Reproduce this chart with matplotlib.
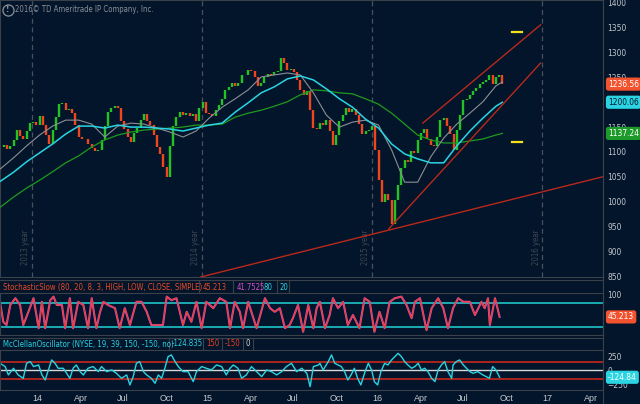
#Russell 2000 style chart with stochastic and McClellan panels
import pandas as pd
import matplotlib
matplotlib.use("Agg")
import matplotlib.pyplot as plt
import matplotlib.dates as mdates
from matplotlib.lines import Line2D
from matplotlib.ticker import FixedLocator, FuncFormatter
from matplotlib.transforms import blended_transform_factory as blend

#Weekly closes (one per week starting 2013-10-25)
weeks = pd.date_range("2013-10-25", periods=155, freq="7D")
closes = [1110, 1114, 1106, 1112, 1124, 1144, 1132, 1126, 1142, 1158,
          1160, 1154, 1172, 1154, 1134, 1116, 1144, 1170, 1197, 1199,
          1184, 1186, 1178, 1154, 1130, 1126, 1126, 1116, 1108, 1102,
          1104, 1124, 1152, 1180, 1188, 1192, 1188, 1162, 1146, 1130,
          1120, 1138, 1148, 1164, 1176, 1162, 1154, 1134, 1110, 1096,
          1070, 1050, 1112, 1152, 1170, 1180, 1174, 1178, 1172, 1176,
          1162, 1188, 1201, 1178, 1176, 1172, 1184, 1195, 1207, 1225,
          1231, 1239, 1233, 1239, 1255, 1255, 1265, 1263, 1251, 1233,
          1239, 1251, 1257, 1255, 1261, 1263, 1290, 1279, 1265, 1267,
          1261, 1245, 1225, 1215, 1223, 1184, 1148, 1146, 1158, 1154,
          1164, 1142, 1114, 1134, 1162, 1174, 1188, 1180, 1186, 1174,
          1156, 1136, 1142, 1144, 1152, 1104, 1044, 1000, 1015, 1003,
          955, 1003, 1033, 1068, 1084, 1080, 1102, 1098, 1124, 1138,
          1146, 1126, 1114, 1112, 1130, 1164, 1168, 1152, 1136, 1104,
          1144, 1174, 1205, 1207, 1215, 1223, 1229, 1237, 1241, 1245,
          1255, 1237, 1251, 1255, 1237]

#Moving averages, read every 4th week plus the last week
ma_dates = weeks[::4].append(weeks[-1:])
ma_gray = [1066, 1088, 1112, 1134, 1152, 1164, 1164, 1156, 1130, 1152,
           1158, 1156, 1148, 1140, 1130, 1142, 1168, 1190, 1207, 1225,
           1251, 1255, 1259, 1255, 1219, 1174, 1150, 1160, 1164, 1154,
           1104, 1039, 1039, 1090, 1128, 1156, 1178, 1201, 1233, 1241]
ma_cyan = [1041, 1059, 1080, 1098, 1116, 1136, 1152, 1152, 1148, 1154,
           1150, 1150, 1148, 1146, 1142, 1148, 1154, 1158, 1180, 1199,
           1219, 1231, 1247, 1253, 1245, 1227, 1207, 1190, 1166, 1148,
           1116, 1096, 1086, 1078, 1078, 1112, 1142, 1168, 1192, 1200.06]
ma_green = [989, 1009, 1027, 1043, 1060, 1078, 1092, 1110, 1124, 1134,
            1140, 1144, 1146, 1148, 1150, 1154, 1154, 1156, 1170, 1178,
            1184, 1192, 1201, 1215, 1225, 1223, 1219, 1217, 1207, 1196,
            1178, 1156, 1134, 1124, 1118, 1118, 1122, 1126, 1134, 1137.24]

#Trend lines drawn on the chart: (start date, start price, end date, end price)
trend_lines = [("2014-12-29", 848, "2017-05-11", 1050),
               ("2016-02-06", 945, "2016-12-28", 1279),
               ("2016-04-19", 1158, "2016-12-28", 1356)]
#Yellow expected-move marks
move_marks = [1342, 1120]
move_span = ("2016-10-28", "2016-11-18")

#StochasticSlow turning points
stoch_dates = ["2013-10-24", "2013-10-31", "2013-11-07", "2013-11-15", "2013-11-26", "2013-12-06",
               "2013-12-13", "2013-12-24", "2014-01-04", "2014-01-15", "2014-01-22", "2014-01-29",
               "2014-02-09", "2014-02-16", "2014-02-23", "2014-03-06", "2014-03-13", "2014-03-23",
               "2014-03-30", "2014-04-10", "2014-04-21", "2014-05-01", "2014-05-09", "2014-05-19",
               "2014-05-27", "2014-06-03", "2014-06-13", "2014-06-28", "2014-07-08", "2014-07-19",
               "2014-07-30", "2014-08-13", "2014-08-24", "2014-09-04", "2014-09-14", "2014-09-25",
               "2014-10-09", "2014-10-17", "2014-10-27", "2014-11-07", "2014-11-21", "2014-11-29",
               "2014-12-09", "2014-12-20", "2014-12-31", "2015-01-10", "2015-01-25", "2015-02-08",
               "2015-02-22", "2015-03-02", "2015-03-12", "2015-03-23", "2015-03-30", "2015-04-10",
               "2015-04-28", "2015-05-16", "2015-05-27", "2015-06-06", "2015-06-17", "2015-06-28",
               "2015-07-08", "2015-07-15", "2015-07-26", "2015-08-06", "2015-08-17", "2015-08-28",
               "2015-09-04", "2015-09-11", "2015-09-22", "2015-10-02", "2015-10-09", "2015-10-20",
               "2015-10-31", "2015-11-10", "2015-11-21", "2015-12-05", "2015-12-16", "2015-12-27",
               "2016-01-06", "2016-01-17", "2016-01-28", "2016-02-08", "2016-02-19", "2016-03-04",
               "2016-03-15", "2016-03-26", "2016-04-02", "2016-04-13", "2016-04-27", "2016-05-08",
               "2016-05-22", "2016-06-02", "2016-06-12", "2016-06-23", "2016-07-04", "2016-07-15",
               "2016-07-29", "2016-08-09", "2016-08-23", "2016-08-30", "2016-09-06", "2016-09-10",
               "2016-09-21", "2016-10-01"]
stoch_k = [83, 33, 25, 75, 92, 75, 25, 58, 92, 17, 83, 17,
           87, 96, 75, 75, 17, 92, 17, 83, 75, 17, 92, 17,
           58, 83, 75, 67, 17, 67, 25, 83, 83, 58, 25, 25,
           25, 96, 87, 92, 25, 58, 33, 83, 17, 83, 67, 92,
           83, 17, 83, 58, 17, 83, 17, 92, 67, 58, 67, 17,
           25, 42, 75, 8, 75, 17, 67, 83, 17, 50, 92, 67,
           83, 25, 50, 17, 92, 83, 8, 58, 17, 83, 92, 96,
           75, 42, 83, 92, 12, 67, 92, 67, 17, 67, 92, 83,
           83, 50, 83, 67, 92, 25, 92, 45.213]

#McClellan oscillator turning points
mc_dates = ["2013-10-24", "2013-11-04", "2013-11-11", "2013-11-22", "2013-12-02", "2013-12-13",
            "2013-12-20", "2013-12-28", "2014-01-04", "2014-01-15", "2014-01-22", "2014-01-29",
            "2014-02-05", "2014-02-12", "2014-02-19", "2014-02-26", "2014-03-09", "2014-03-16",
            "2014-03-23", "2014-03-30", "2014-04-06", "2014-04-14", "2014-04-21", "2014-05-01",
            "2014-05-12", "2014-05-23", "2014-05-30", "2014-06-10", "2014-06-21", "2014-07-01",
            "2014-07-12", "2014-07-23", "2014-07-30", "2014-08-06", "2014-08-13", "2014-08-20",
            "2014-08-28", "2014-09-04", "2014-09-14", "2014-09-22", "2014-09-29", "2014-10-06",
            "2014-10-13", "2014-10-20", "2014-10-27", "2014-11-04", "2014-11-11", "2014-11-21",
            "2014-12-02", "2014-12-13", "2014-12-20", "2014-12-31", "2015-01-10", "2015-01-21",
            "2015-02-01", "2015-02-12", "2015-02-22", "2015-03-02", "2015-03-09", "2015-03-19",
            "2015-03-27", "2015-04-06", "2015-04-17", "2015-04-28", "2015-05-09", "2015-05-20",
            "2015-05-30", "2015-06-10", "2015-06-21", "2015-07-01", "2015-07-12", "2015-07-23",
            "2015-08-03", "2015-08-14", "2015-08-21", "2015-08-28", "2015-09-08", "2015-09-11",
            "2015-09-18", "2015-09-29", "2015-10-06", "2015-10-13", "2015-10-20", "2015-10-27",
            "2015-11-03", "2015-11-10", "2015-11-17", "2015-11-24", "2015-12-01", "2015-12-08",
            "2015-12-17", "2015-12-24", "2015-12-31", "2016-01-06", "2016-01-13", "2016-01-20",
            "2016-01-28", "2016-02-04", "2016-02-12", "2016-02-19", "2016-02-26", "2016-03-04",
            "2016-03-11", "2016-03-18", "2016-03-26", "2016-04-02", "2016-04-09", "2016-04-16",
            "2016-04-23", "2016-04-30", "2016-05-08", "2016-05-15", "2016-05-22", "2016-05-29",
            "2016-06-05", "2016-06-12", "2016-06-20", "2016-06-23", "2016-06-30", "2016-07-07",
            "2016-07-15", "2016-07-22", "2016-07-29", "2016-08-05", "2016-08-15", "2016-08-26",
            "2016-09-02", "2016-09-09", "2016-09-16", "2016-09-23", "2016-10-01"]
mc_vals = [125, 66, -83, 36, -83, -143, 125, 155, 66, 95, -83, -173,
           6, 185, 125, 36, 36, -54, -143, 36, 95, -24, -83, 36,
           66, -24, 66, -24, 6, -54, -143, -83, -262, -113, 125, 155,
           -24, -83, -143, -232, -83, -143, 36, 244, 274, 155, 66, -24,
           -24, -202, -24, 66, 36, 6, 95, 66, -83, 36, 95, 36,
           -143, -83, 66, -24, -113, 6, -24, -83, -24, 66, 125, -24,
           36, -54, -292, 66, 95, 125, 6, 155, 274, 125, 95, 66,
           -24, -173, -83, 36, -143, -262, -24, 125, 6, -202, -262, -24,
           125, 95, 185, 244, 303, 244, 155, 95, 36, 66, 125, 6,
           36, -24, -143, -202, 6, 95, 155, -24, -143, 95, 155, 185,
           95, 36, -24, -54, -24, -83, -113, -143, 66, 6, -124.835]

#Colours and sizes of the thinkorswim look
W, H = 640, 404
BG = "#03152b"
EDGE = "#3a414b"
TXT = "#c3c7cc"
UP = "#22c322"
DOWN = "#f0461e"
RED = "#f2522e"
CYAN = "#2ad4e2"
plt.rcParams["font.family"] = ["Liberation Sans Narrow", "DejaVu Sans"]
plt.rcParams["font.stretch"] = "condensed"
FS = 5.6

fig = plt.figure(figsize=(W / 100, H / 100), dpi=100, facecolor=BG)


def panel(top, bottom):
    return fig.add_axes([0, 1 - bottom / H, 603 / W, (bottom - top) / H], facecolor=BG)


ax = panel(0, 277)
ax_st = panel(293, 335)
ax_mc = panel(350, 390)
ax_st.sharex(ax)
ax_mc.sharex(ax)
for a in (ax, ax_st, ax_mc):
    for s in a.spines.values():
        s.set_color(EDGE)
        s.set_linewidth(0.8)
    a.yaxis.tick_right()
    a.tick_params(axis="y", length=0, pad=3, labelsize=FS + 0.4, colors=TXT)
    a.tick_params(axis="x", length=0)

#Price bars: from previous close to close
c = pd.Series(closes, index=weeks)
prev = c.shift(1).fillna(c.iloc[0])
up = c >= prev
ax.vlines(weeks[up], prev[up], c[up], color=UP, lw=1.7, zorder=3)
ax.vlines(weeks[~up], prev[~up], c[~up], color=DOWN, lw=1.7, zorder=3)

#Moving averages
ax.plot(ma_dates, ma_green, color="#1e9a1e", lw=0.9, zorder=4)
ax.plot(ma_dates, ma_gray, color="#8c8f94", lw=0.8, zorder=4)
ax.plot(ma_dates, ma_cyan, color=CYAN, lw=1.1, zorder=4)

#Trend lines and expected move marks
for d0, p0, d1, p1 in trend_lines:
    ax.plot(pd.to_datetime([d0, d1]), [p0, p1], color="#b8291c", lw=1.0, zorder=5)
for m in move_marks:
    ax.plot(pd.to_datetime(list(move_span)), [m, m], color="#f2e21a", lw=1.6, zorder=5)

#Year separators
for yr in [2014, 2015, 2016, 2017]:
    d = pd.Timestamp(f"{yr}-01-01")
    ax.axvline(d, color="#4a515b", lw=0.9, ls=(0, (4, 3)), zorder=1)
    ax.text(d - pd.Timedelta(days=4), 872, f"{yr - 1} year", rotation=90, ha="right",
            va="bottom", fontsize=FS, color="#3f4753", zorder=1)

ax.set_ylim(848, 1406)
ax.yaxis.set_major_locator(FixedLocator(range(850, 1401, 50)))
ax.set_xlim(pd.Timestamp("2013-10-24"), pd.Timestamp("2017-05-11"))
ax.tick_params(axis="x", labelbottom=False)

#Stochastic panel
sd = pd.to_datetime(stoch_dates)
ax_st.axhline(80, color="#1ec4c8", lw=1.2)
ax_st.axhline(20, color="#1ec4c8", lw=1.2)
ax_st.plot(sd, stoch_k, color="#d24fc8", lw=1.5)
ax_st.plot(sd, stoch_k, color="#ec3f22", lw=0.8)
ax_st.set_ylim(0, 105)
ax_st.yaxis.set_major_locator(FixedLocator([100]))
ax_st.tick_params(axis="x", labelbottom=False)

#McClellan panel
md = pd.to_datetime(mc_dates)
ax_mc.axhline(150, color="#c8281c", lw=1.2)
ax_mc.axhline(-150, color="#c8281c", lw=1.2)
ax_mc.axhline(0, color="#d8d8d8", lw=1.0)
ax_mc.plot(md, mc_vals, color=CYAN, lw=1.0)
ax_mc.set_ylim(-352, 362)
ax_mc.yaxis.set_major_locator(FixedLocator([-250, 0, 250]))

#Month labels along the bottom
ax_mc.xaxis.set_major_locator(mdates.MonthLocator(bymonth=[1, 4, 7, 10]))
ax_mc.xaxis.set_major_formatter(FuncFormatter(
    lambda v, p: mdates.num2date(v).strftime("%y" if mdates.num2date(v).month == 1 else "%b")))
ax_mc.tick_params(axis="x", pad=3, labelsize=6.5, colors=TXT)
plt.setp(ax_mc.get_xticklabels(), ha="left", family="Liberation Sans", stretch="normal")

#Value boxes on the right scale
for a, val, txt, fc, tc in [(ax, 1236.56, "1236.56", RED, "white"),
                            (ax, 1200.06, "1200.06", CYAN, "#03152b"),
                            (ax, 1137.24, "1137.24", "#1c9a2a", "white"),
                            (ax_st, 45.213, "45.213", RED, "white"),
                            (ax_mc, -124.835, "-124.84", CYAN, "white")]:
    a.text(608 / W, val, txt, transform=blend(fig.transFigure, a.transData), ha="left",
           va="center", fontsize=FS + 0.4, color=tc, zorder=10, clip_on=False,
           bbox=dict(boxstyle="round,pad=0.25,rounding_size=0.3", fc=fc, ec="none"))

#Header rows for the indicator panels


def hline(y, x0=0, x1=603):
    fig.add_artist(Line2D([x0 / W, x1 / W], [1 - y / H, 1 - y / H], color=EDGE, lw=0.8))


def vline(x, y0, y1):
    fig.add_artist(Line2D([x / W, x / W], [1 - y0 / H, 1 - y1 / H], color=EDGE, lw=0.8))


def label(x, y, s, col):
    fig.text(x / W, 1 - y / H, s, color=col, fontsize=FS, ha="left", va="center")


hline(280)
hline(338)
vline(603, 0, 404)
label(3, 287.5, "StochasticSlow (80, 20, 8, 3, HIGH, LOW, CLOSE, SIMPLE)", "#ec4a26")
for x in [199, 233, 261, 277, 289]:
    vline(x, 280, 293)
label(203, 287.5, "45.213", "#ec4a26")
label(237, 287.5, "41.7525", "#d24fc8")
label(264, 287.5, "80", "#2ad4e2")
label(279, 287.5, "20", "#2ad4e2")

label(3, 344, "McClellanOscillator (NYSE, 19, 39, 150, -150, no)", CYAN)
for x in [169, 203, 222, 243, 253]:
    vline(x, 338, 350)
label(172, 344, "-124.835", CYAN)
label(206, 344, "150", "#ec3f22")
label(225, 344, "-150", "#ec3f22")
label(246, 344, "0", "#d8d8d8")

#Watermark
fig.add_artist(Line2D([8 / W], [1 - 10 / H], marker="o", ms=8, mfc="none", mec="#8a9099",
                      mew=0.9, transform=fig.transFigure))
fig.text(8 / W, 1 - 10 / H, "!", color="#8a9099", fontsize=6, ha="center", va="center",
         fontweight="bold")
fig.text(15 / W, 1 - 10 / H, "2016\u00a9 TD Ameritrade IP Company, Inc.", color="#8a9099",
         fontsize=FS, ha="left", va="center")

fig.savefig("out.png", dpi=100, facecolor=BG)
